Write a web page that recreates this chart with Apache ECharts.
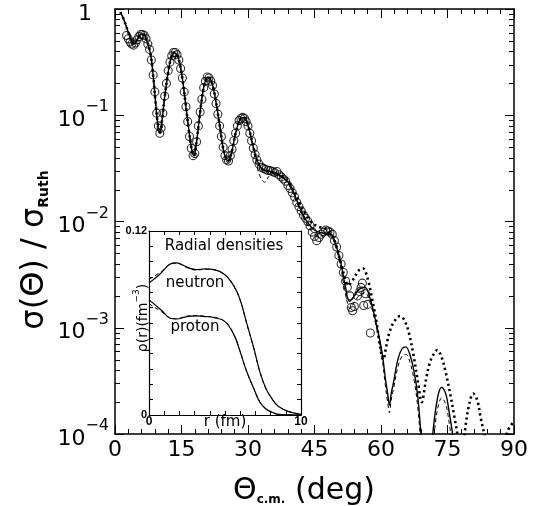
<!DOCTYPE html>
<html><head><meta charset="utf-8">
<script src="https://cdn.jsdelivr.net/npm/echarts@6/dist/echarts.min.js"></script>
<style>html,body{margin:0;padding:0;background:#fff}#c{width:536px;height:506px}</style>
</head><body><div id="c"></div>
<script>
const F = 'DejaVu Sans';

// ---- main panel data: [theta (deg), log10(sigma/sigma_Ruth)] ----
const solidCurve = [[1.2,-0.03],[2.0,-0.10],[3.0,-0.22],[3.7,-0.30],[4.3,-0.33],[5.0,-0.29],[5.8,-0.24],[6.5,-0.24],[7.2,-0.30],[8.0,-0.42],[8.6,-0.62],[9.2,-0.90],[9.7,-1.10],[10.1,-1.17],[10.6,-1.05],[11.2,-0.83],[11.9,-0.62],[12.6,-0.47],[13.4,-0.41],[14.2,-0.45],[15.0,-0.60],[15.8,-0.85],[16.6,-1.12],[17.3,-1.32],[17.8,-1.38],[18.4,-1.25],[19.2,-0.97],[20.1,-0.72],[21.0,-0.64],[21.9,-0.70],[22.8,-0.88],[23.7,-1.12],[24.6,-1.35],[25.5,-1.43],[26.3,-1.35],[27.2,-1.17],[28.2,-1.04],[29.0,-1.02],[29.9,-1.08],[31.0,-1.26],[32.0,-1.42],[33.0,-1.50],[34.0,-1.52],[35.0,-1.53],[36.5,-1.55],[38.0,-1.59],[39.0,-1.63],[40.0,-1.70],[41.0,-1.80],[42.0,-1.90],[43.0,-1.98],[44.0,-2.04],[45.0,-2.08],[46.0,-2.10],[47.0,-2.11],[48.0,-2.11],[49.0,-2.13],[50.0,-2.24],[51.0,-2.40],[52.0,-2.62],[52.9,-2.75],[54.0,-2.70],[55.0,-2.64],[56.4,-2.62],[57.5,-2.72],[58.6,-2.90],[59.5,-3.07],[60.3,-3.25],[61.0,-3.48],[61.5,-3.62],[61.9,-3.73],[62.3,-3.62],[62.8,-3.52],[63.8,-3.30],[64.7,-3.20],[65.6,-3.18],[66.5,-3.25],[67.5,-3.42],[68.3,-3.65],[69.0,-4.0],[69.6,-4.4],[70.5,-4.6],[71.2,-4.3],[71.8,-3.95],[72.8,-3.65],[73.7,-3.56],[74.6,-3.62],[75.4,-3.80],[76.2,-4.02],[76.8,-4.3]];

const dashedCurve = [[1.2,-0.03],[2.0,-0.10],[3.0,-0.22],[3.7,-0.30],[4.3,-0.33],[5.0,-0.29],[5.8,-0.24],[6.5,-0.24],[7.2,-0.30],[8.0,-0.42],[8.6,-0.62],[9.2,-0.90],[9.7,-1.11],[10.1,-1.18],[10.6,-1.05],[11.2,-0.83],[11.9,-0.62],[12.6,-0.47],[13.4,-0.41],[14.2,-0.45],[15.0,-0.60],[15.8,-0.85],[16.6,-1.12],[17.3,-1.33],[17.8,-1.39],[18.4,-1.25],[19.2,-0.97],[20.1,-0.72],[21.0,-0.64],[21.9,-0.70],[22.8,-0.88],[23.7,-1.12],[24.6,-1.36],[25.5,-1.45],[26.3,-1.36],[27.2,-1.17],[28.2,-1.04],[29.0,-1.02],[29.9,-1.09],[31.0,-1.28],[32.0,-1.48],[33.0,-1.60],[33.8,-1.63],[34.6,-1.58],[35.5,-1.55],[36.5,-1.56],[38.0,-1.60],[39.0,-1.64],[40.0,-1.72],[41.0,-1.82],[42.0,-1.92],[43.0,-2.00],[44.0,-2.07],[45.0,-2.12],[46.0,-2.14],[47.0,-2.13],[48.0,-2.12],[49.0,-2.15],[50.0,-2.27],[51.0,-2.45],[52.0,-2.68],[53.0,-2.82],[54.0,-2.76],[55.0,-2.70],[56.4,-2.67],[57.5,-2.76],[58.6,-2.93],[59.5,-3.10],[60.3,-3.30],[61.0,-3.55],[61.5,-3.70],[61.9,-3.80],[62.3,-3.68],[62.8,-3.58],[63.8,-3.37],[64.7,-3.27],[65.6,-3.25],[66.5,-3.32],[67.5,-3.50],[68.3,-3.75],[69.0,-4.1],[69.5,-4.4],[70.5,-4.6],[71.3,-4.35],[71.8,-4.1],[72.6,-3.80],[73.7,-3.66],[74.6,-3.72],[75.4,-3.90],[76.0,-4.1],[76.5,-4.3]];

const dottedCurve = [[1.2,-0.03],[2.0,-0.10],[3.0,-0.22],[3.7,-0.30],[4.3,-0.33],[5.0,-0.29],[5.8,-0.24],[6.5,-0.24],[7.2,-0.30],[8.0,-0.42],[8.6,-0.62],[9.2,-0.90],[9.7,-1.10],[10.1,-1.17],[10.6,-1.05],[11.2,-0.83],[11.9,-0.62],[12.6,-0.47],[13.4,-0.41],[14.2,-0.45],[15.0,-0.60],[15.8,-0.85],[16.6,-1.12],[17.3,-1.32],[17.8,-1.38],[18.4,-1.25],[19.2,-0.97],[20.1,-0.72],[21.0,-0.64],[21.9,-0.70],[22.8,-0.88],[23.7,-1.12],[24.6,-1.35],[25.5,-1.43],[26.3,-1.35],[27.2,-1.17],[28.2,-1.04],[29.0,-1.02],[29.9,-1.08],[31.0,-1.26],[32.0,-1.42],[33.0,-1.50],[34.0,-1.52],[35.0,-1.53],[36.5,-1.55],[38.0,-1.58],[39.0,-1.62],[40.0,-1.69],[41.0,-1.77],[42.0,-1.86],[43.0,-1.93],[44.0,-1.99],[45.0,-2.03],[46.0,-2.05],[47.0,-2.06],[48.0,-2.08],[49.0,-2.13],[50.0,-2.24],[51.0,-2.40],[52.0,-2.55],[52.6,-2.60],[53.5,-2.56],[55.0,-2.46],[55.9,-2.44],[57.0,-2.54],[58.0,-2.73],[59.0,-2.95],[59.8,-3.18],[60.5,-3.30],[61.2,-3.17],[62.0,-3.03],[63.0,-2.94],[64.3,-2.89],[65.3,-2.93],[66.3,-3.05],[67.3,-3.25],[68.3,-3.50],[69.2,-3.70],[70.1,-3.50],[71.0,-3.33],[72.0,-3.24],[72.7,-3.21],[73.6,-3.27],[74.6,-3.42],[75.6,-3.62],[76.6,-3.85],[77.4,-4.05],[78.2,-4.35],[79.0,-3.95],[80.0,-3.70],[80.8,-3.62],[81.7,-3.68],[82.5,-3.85],[83.5,-4.05],[84.5,-4.4],[86.5,-4.6],[88.0,-4.1],[88.6,-3.97],[90.0,-3.88]];

const measured = [[2.6,-0.25],[3.0,-0.28],[3.4,-0.31],[3.8,-0.33],[4.2,-0.34],[4.6,-0.32],[5.0,-0.29],[5.4,-0.26],[5.8,-0.24],[6.2,-0.24],[6.6,-0.25],[7.0,-0.28],[7.4,-0.33],[7.8,-0.38],[8.2,-0.48],[8.6,-0.62],[9.0,-0.78],[9.4,-0.98],[9.8,-1.10],[10.1,-1.17],[10.4,-1.12],[10.8,-0.98],[11.2,-0.82],[11.6,-0.70],[12.0,-0.58],[12.4,-0.50],[12.8,-0.44],[13.2,-0.41],[13.6,-0.41],[14.0,-0.43],[14.4,-0.48],[14.8,-0.56],[15.2,-0.65],[15.6,-0.78],[16.0,-0.92],[16.4,-1.06],[16.8,-1.20],[17.2,-1.31],[17.6,-1.38],[18.0,-1.36],[18.4,-1.25],[18.8,-1.10],[19.2,-0.97],[19.6,-0.85],[20.0,-0.74],[20.4,-0.68],[20.8,-0.64],[21.2,-0.65],[21.6,-0.68],[22.0,-0.72],[22.4,-0.80],[22.8,-0.89],[23.2,-0.99],[23.6,-1.10],[24.0,-1.20],[24.4,-1.30],[24.8,-1.38],[25.2,-1.42],[25.6,-1.43],[26.0,-1.38],[26.4,-1.32],[26.8,-1.24],[27.2,-1.17],[27.6,-1.10],[28.0,-1.05],[28.4,-1.03],[28.8,-1.02],[29.2,-1.03],[29.6,-1.06],[30.0,-1.10],[30.4,-1.17],[30.8,-1.24],[31.2,-1.31],[31.6,-1.37],[32.0,-1.42],[32.5,-1.46],[33.0,-1.49],[33.5,-1.50],[34.0,-1.51],[34.5,-1.52],[35.0,-1.52],[35.5,-1.53],[36.0,-1.54],[36.5,-1.53],[37.0,-1.56],[37.5,-1.58],[38.0,-1.60],[38.5,-1.62],[39.0,-1.66],[39.5,-1.69],[40.0,-1.73],[40.5,-1.77],[41.0,-1.82],[41.5,-1.86],[42.0,-1.90],[42.5,-1.94],[43.0,-1.97],[43.5,-2.00],[44.0,-2.04],[44.5,-2.10],[45.0,-2.14],[45.5,-2.18],[46.0,-2.15],[46.5,-2.12],[47.0,-2.10],[47.5,-2.08],[48.0,-2.09],[48.5,-2.10],[49.0,-2.12],[49.5,-2.18],[50.0,-2.24],[50.5,-2.32],[51.0,-2.40],[51.5,-2.48],[52.0,-2.56],[52.4,-2.62],[53.0,-2.70],[53.3,-2.81],[53.6,-2.84],[54.0,-2.80],[54.7,-2.70],[55.2,-2.66],[55.5,-2.62],[55.8,-2.58],[56.1,-2.79],[56.5,-2.68],[57.0,-2.78],[57.6,-3.05]];

const xTickLabels = ['0','15','30','45','60','75','90'];

// ---- inset data: radial densities (fm^-3) ----
const rFm = [0,0.8,1.4,1.8,2.5,3.1,3.7,4.3,5.0,5.6,6.0,6.4,6.9,7.3,7.7,8.1,8.5,9.2,10];
const neutronSolid = [0.0860,0.0926,0.0985,0.0992,0.0964,0.0948,0.0953,0.0948,0.0915,0.0839,0.0751,0.0609,0.0434,0.0280,0.0171,0.0105,0.0057,0.0022,0.0004];
const neutronDashed = [0.0885,0.0935,0.0985,0.0990,0.0962,0.0945,0.0950,0.0946,0.0913,0.0836,0.0748,0.0606,0.0432,0.0279,0.0170,0.0104,0.0057,0.0022,0.0004];
const protonSolid = [0.0751,0.0685,0.0631,0.0626,0.0642,0.0646,0.0642,0.0635,0.0609,0.0521,0.0412,0.0291,0.0171,0.0083,0.0039,0.0018,0.0004,0.0001,0];
const protonDashed = [0.0725,0.0675,0.0632,0.0628,0.0645,0.0648,0.0644,0.0637,0.0610,0.0522,0.0413,0.0291,0.0171,0.0083,0.0039,0.0018,0.0004,0.0001,0];

const toLog = arr => arr.map(p => [p[0], Math.pow(10, p[1])]);
const pair = (xs, ys) => xs.map((x, i) => [x, ys[i]]);

// minor log-tick values (2..9 x 10^e) for the y axis
const minorTickVals = [];
for (let e = -4; e < 0; e++) for (let k = 2; k <= 9; k++) minorTickVals.push([45, k * Math.pow(10, e)]);

const blk = '#000';
const mainX = (pos, showLabel) => ({
  type: 'value', gridIndex: 0, position: pos, min: 0, max: 90, interval: 15,
  axisLine: { show: true, onZero: false, lineStyle: { color: blk, width: 1.5 } },
  axisTick: { show: true, inside: true, length: 9, lineStyle: { color: blk, width: 1 } },
  minorTick: { show: true, splitNumber: 5, length: 5, lineStyle: { color: blk, width: 1 } },
  splitLine: { show: false }, minorSplitLine: { show: false },
  axisLabel: { show: showLabel, margin: 5, fontSize: 22, fontFamily: F, color: blk,
    formatter: v => xTickLabels[Math.round(v / 15)] }
});
const mainY = (pos, showLabel) => ({
  type: 'log', logBase: 10, gridIndex: 0, position: pos, min: 1e-4, max: 1,
  axisLine: { show: true, onZero: false, lineStyle: { color: blk, width: 1.5 } },
  axisTick: { show: true, inside: true, length: 9, lineStyle: { color: blk, width: 1 } },
  splitLine: { show: false },
  axisLabel: showLabel ? {
    show: true, margin: 6,
    formatter: v => { const e = Math.round(Math.log10(v)); return e === 0 ? '{b|1}{sp| }' : '{b|10}{s|\u2212' + (-e) + '}'; },
    rich: {
      b: { fontSize: 22, fontFamily: F, color: blk, verticalAlign: 'bottom', lineHeight: 32 },
      s: { fontSize: 16, fontFamily: F, color: blk, verticalAlign: 'top' },
      sp: { fontSize: 16, width: 17 }
    }
  } : { show: false }
});
const insetX = (pos, showLabel) => ({
  type: 'value', gridIndex: 1, position: pos, min: 0, max: 10, interval: 1,
  axisLine: { show: true, onZero: false, lineStyle: { color: blk, width: 1.2 } },
  axisTick: { show: true, inside: true, length: 4, lineStyle: { color: blk, width: 1 } },
  splitLine: { show: false },
  axisLabel: showLabel ? { show: true, customValues: [0, 10], margin: 1, fontSize: 12, fontWeight: 'bold', fontFamily: 'Liberation Sans', color: blk } : { show: false }
});
const insetY = (pos, showLabel) => ({
  type: 'value', gridIndex: 1, position: pos, min: 0, max: 0.12, interval: 0.01,
  axisLine: { show: true, onZero: false, lineStyle: { color: blk, width: 1.2 } },
  axisTick: { show: true, inside: true, length: 4, lineStyle: { color: blk, width: 1 } },
  splitLine: { show: false },
  axisLabel: showLabel ? { show: true, customValues: [0, 0.12], margin: 2, fontSize: 11, fontWeight: 'bold', fontFamily: 'Liberation Sans', color: blk,
    formatter: v => (v === 0 ? '0' : '0.12') } : { show: false }
});
const tickSeries = side => ({
  type: 'custom', xAxisIndex: 0, yAxisIndex: 0, data: minorTickVals, encode: { x: 0, y: 1 },
  renderItem: (params, api) => {
    const v = api.value(1);
    const p = api.coord([side === 'left' ? 0 : 90, v]);
    const y = Math.round(p[1]) + 0.5;
    const x2 = side === 'left' ? p[0] + 5 : p[0] - 5;
    return { type: 'line', shape: { x1: p[0], y1: y, x2: x2, y2: y }, style: { stroke: blk, lineWidth: 1 } };
  }
});

const chart = echarts.init(document.getElementById('c'));
chart.setOption({
  animation: false,
  backgroundColor: '#fff',
  grid: [
    { left: 115, top: 9, width: 399, height: 425, containLabel: false },
    { left: 149, top: 231, width: 152, height: 184, containLabel: false }
  ],
  xAxis: [mainX('bottom', true), mainX('top', false), insetX('bottom', true), insetX('top', false)],
  yAxis: [mainY('left', true), mainY('right', false), insetY('left', true), insetY('right', false)],
  series: [
    tickSeries('left'),
    tickSeries('right'),
    { type: 'line', xAxisIndex: 0, yAxisIndex: 0, data: toLog(dottedCurve), showSymbol: false, smooth: 0.35,
      lineStyle: { color: blk, width: 2.6, type: [2.2, 3.2], cap: 'butt' }, z: 2 },
    { type: 'line', xAxisIndex: 0, yAxisIndex: 0, data: toLog(dashedCurve), showSymbol: false, smooth: 0.35,
      lineStyle: { color: blk, width: 1, type: [4, 3] }, z: 3 },
    { type: 'line', xAxisIndex: 0, yAxisIndex: 0, data: toLog(solidCurve), showSymbol: false, smooth: 0.35,
      lineStyle: { color: blk, width: 1.4 }, z: 4 },
    { type: 'scatter', xAxisIndex: 0, yAxisIndex: 0, data: toLog(measured), symbol: 'circle', symbolSize: 8,
      itemStyle: { color: 'rgba(0,0,0,0)', borderColor: blk, borderWidth: 1.1 }, z: 5 },
    { type: 'line', xAxisIndex: 2, yAxisIndex: 2, data: pair(rFm, neutronSolid), showSymbol: false, smooth: 0.4, lineStyle: { color: blk, width: 1.2 } },
    { type: 'line', xAxisIndex: 2, yAxisIndex: 2, data: pair(rFm, neutronDashed), showSymbol: false, smooth: 0.4, lineStyle: { color: blk, width: 1, type: [4, 3] } },
    { type: 'line', xAxisIndex: 2, yAxisIndex: 2, data: pair(rFm, protonSolid), showSymbol: false, smooth: 0.4, lineStyle: { color: blk, width: 1.2 } },
    { type: 'line', xAxisIndex: 2, yAxisIndex: 2, data: pair(rFm, protonDashed), showSymbol: false, smooth: 0.4, lineStyle: { color: blk, width: 1, type: [4, 3] } }
  ],
  graphic: [
    { type: 'text', x: 304, y: 490, style: { text: '{a|\u0398}{b|c.m.}{a| (deg)}', align: 'center', verticalAlign: 'middle', fill: blk,
      rich: { a: { fontSize: 30, fontFamily: F, fill: blk, verticalAlign: 'bottom', lineHeight: 32 }, b: { fontSize: 12, fontWeight: 'bold', fontFamily: F, fill: blk, verticalAlign: 'bottom' } } } },
    { type: 'text', x: 33, y: 250, rotation: Math.PI / 2, style: { text: '{a|\u03c3(\u0398) / \u03c3}{b|Ruth}', align: 'center', verticalAlign: 'middle', fill: blk,
      rich: { a: { fontSize: 32, fontFamily: F, fill: blk, verticalAlign: 'bottom', lineHeight: 36 }, b: { fontSize: 14, fontWeight: 'bold', fontFamily: F, fill: blk, verticalAlign: 'bottom' } } } },
    { type: 'text', x: 224, y: 246, style: { text: 'Radial densities', fontSize: 15, fontFamily: F, fill: blk, align: 'center', verticalAlign: 'middle' } },
    { type: 'text', x: 195, y: 283, style: { text: 'neutron', fontSize: 15, fontFamily: F, fill: blk, align: 'center', verticalAlign: 'middle' } },
    { type: 'text', x: 195, y: 327, style: { text: 'proton', fontSize: 15, fontFamily: F, fill: blk, align: 'center', verticalAlign: 'middle' } },
    { type: 'text', x: 225, y: 422, style: { text: 'r (fm)', fontSize: 15, fontFamily: F, fill: blk, align: 'center', verticalAlign: 'middle' } },
    { type: 'text', x: 141, y: 318, rotation: Math.PI / 2, style: { text: '{a|\u03c1(r)(fm}{s|\u22123}{a|)}', align: 'center', verticalAlign: 'middle', fill: blk,
      rich: { a: { fontSize: 14, fontFamily: F, fill: blk, verticalAlign: 'bottom', lineHeight: 18 }, s: { fontSize: 9, fontFamily: F, fill: blk, verticalAlign: 'top' } } } }
  ]
});
</script>
</body></html>
